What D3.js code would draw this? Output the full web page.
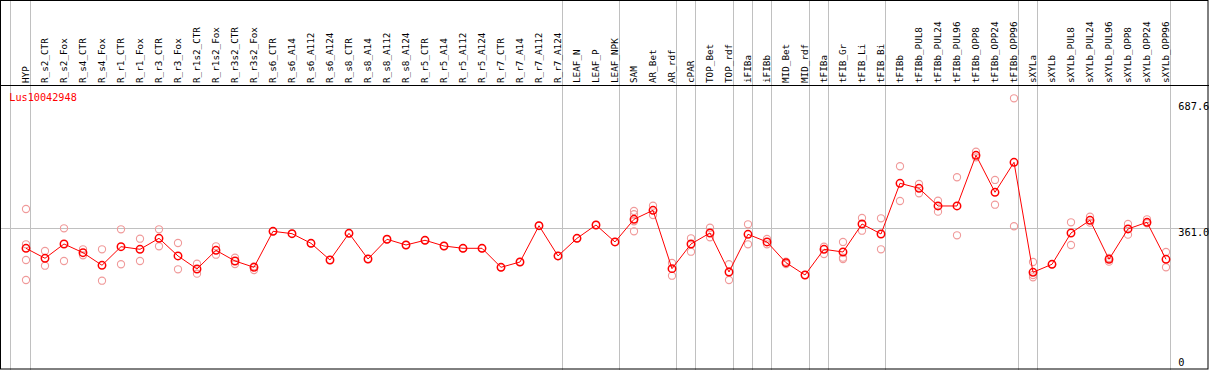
<!DOCTYPE html>
<html><head><meta charset="utf-8">
<script src="https://cdn.jsdelivr.net/npm/d3@7"></script>
<style>body{margin:0;background:#fff}svg{display:block}</style>
</head><body>
<svg id="c" width="1209" height="370"></svg>
<script>
const title = "Lus10042948";
const categories = ["HYP","R_s2_CTR","R_s2_Fox","R_s4_CTR","R_s4_Fox","R_r1_CTR","R_r1_Fox","R_r3_CTR","R_r3_Fox","R_r1s2_CTR","R_r1s2_Fox","R_r3s2_CTR","R_r3s2_Fox","R_s6_CTR","R_s6_A14","R_s6_A112","R_s6_A124","R_s8_CTR","R_s8_A14","R_s8_A112","R_s8_A124","R_r5_CTR","R_r5_A14","R_r5_A112","R_r5_A124","R_r7_CTR","R_r7_A14","R_r7_A112","R_r7_A124","LEAF_N","LEAF_P","LEAF_NPK","SAM","AR_Bet","AR_rdf","cPAR","TOP_Bet","TOP_rdf","iFIBa","iFIBb","MID_Bet","MID_rdf","tFIBa","tFIB_Gr","tFIB_Li","tFIB_Bi","tFIBb","tFIBb_PUL8","tFIBb_PUL24","tFIBb_PUL96","tFIBb_OPP8","tFIBb_OPP24","tFIBb_OPP96","sXYLa","sXYLb","sXYLb_PUL8","sXYLb_PUL24","sXYLb_PUL96","sXYLb_OPP8","sXYLb_OPP24","sXYLb_OPP96"];
const means = [309.2,283.3,320.4,297.8,265.2,313.4,306.6,335.1,289.3,255.6,304.0,276.3,260.0,353.3,347.1,322.2,278.9,348.1,281.5,332.6,317.8,330.0,315.2,309.2,309.2,260.0,273.7,367.8,289.3,335.1,369.6,325.6,384.4,407.7,256.4,320.4,348.9,247.8,345.5,325.6,271.9,240.0,306.6,299.6,372.2,346.3,477.7,464.7,418.9,418.9,550.3,454.4,532.1,247.0,267.8,348.9,381.8,280.7,359.3,376.6,280.7];
const replicates = [
 [411.1,319.6,278.9,227.1],[302.2,264.1],[361.1,276.3],[306.6,291.1],[306.6,225.2],
 [358.5,267.8],[334.1,276.3],[358.5,314.4],[323.0,254.8],[269.3,243.4],
 [314.4,292.6],[284.9,268.5],[262.6,253.0],[353.3],[347.1],
 [322.2],[278.9],[348.1],[281.5],[332.6],
 [317.8],[330.0],[315.2],[309.2],[309.2],
 [260.0],[273.7],[367.8],[289.3],[335.1],
 [369.6],[325.6],[405.9,397.4,379.2,353.3],[419.6,395.5],[271.1,238.2],
 [335.1,300.4],[362.6,337.7],[267.8,227.1],[371.4,319.6],[333.3,319.6],
 [274.5,268.5],[240.0],[313.4,294.4],[325.6,284.9,281.5],[387.8,354.8],
 [387.0,306.6],[521.8,431.8],[475.9,451.8],[432.6,404.1],[493.3,342.9],
 [559.6,545.1],[486.3,422.2],[698.0,366.3],[273.7,240.0,234.1],[267.8],
 [376.6,317.8],[391.1,375.6],[284.1,274.5],[372.2,344.5],[384.4,374.0],
 [299.6,260.0]
];
const groupEnds = ["HYP","R_r7_A124","LEAF_NPK","AR_rdf","cPAR","TOP_rdf","iFIBa","iFIBb","MID_rdf","tFIBa","tFIB_Bi","tFIBb_OPP96","sXYLa","sXYLb_OPP96"];
const yTicks = [687.6, 361.0, 0];
const yMax = 687.6;

const W = 1209, H = 370;
const svg = d3.select("#c");
const x = d3.scaleBand().domain(categories).range([11.5, 1170.5]).padding(0);
const px = c => x(c) + 14.5;
const y = d3.scaleLinear().domain([0, yMax]).range([367.6, 102.3]);
const mono = "'DejaVu Sans Mono', monospace";

// vertical group gridlines
const vx = [10.5].concat(groupEnds.map(c => Math.floor(x(c) + x.bandwidth()) + 0.5));
svg.selectAll("line.v").data(vx).join("line")
  .attr("x1", d => d).attr("x2", d => d).attr("y1", 0).attr("y2", H)
  .attr("stroke", "#c0c0c0").attr("stroke-width", 1);
// horizontal gridline at middle tick
svg.append("line").attr("x1", 0).attr("x2", W)
  .attr("y1", Math.floor(y(361.0)) + 0.5).attr("y2", Math.floor(y(361.0)) + 0.5)
  .attr("stroke", "#c0c0c0");

// frame and header line
svg.append("rect").attr("x", 0.5).attr("y", 0.5).attr("width", 1207.5).attr("height", 368.5)
  .attr("fill", "none").attr("stroke", "#000");
svg.append("line").attr("x1", 0).attr("x2", W).attr("y1", 85.5).attr("y2", 85.5).attr("stroke", "#000");

// category labels
svg.selectAll("text.cat").data(categories).join("text")
  .attr("transform", c => `translate(${px(c) + 2.6},83) rotate(-90)`)
  .attr("font-family", mono).attr("font-size", "9.3px").attr("fill", "#000")
  .text(c => c);

// y tick labels
svg.selectAll("text.yt").data(yTicks).join("text")
  .attr("x", 1178.3)
  .attr("y", d => Math.min(y(d) + 7.6, 366))
  .attr("font-family", mono).attr("font-size", "10.3px").attr("fill", "#000")
  .text(d => d.toFixed(1) === "0.0" ? "0" : d.toFixed(1));

// title
svg.append("text").attr("x", 9.3).attr("y", 100.7)
  .attr("font-family", mono).attr("font-size", "10.2px").attr("fill", "#ff0000").text(title);

// replicate points
const reps = [];
replicates.forEach((arr, i) => arr.forEach(v => reps.push({c: categories[i], v})));
svg.selectAll("circle.rep").data(reps).join("circle")
  .attr("cx", d => px(d.c)).attr("cy", d => y(d.v)).attr("r", 3.6)
  .attr("fill", "none").attr("stroke", "#f09a9a").attr("stroke-width", 1.1);

// mean line
const line = d3.line().x((d, i) => px(categories[i])).y(d => y(d));
svg.append("path").datum(means).attr("d", line)
  .attr("fill", "none").attr("stroke", "#ff0000").attr("stroke-width", 1);

// mean points
svg.selectAll("circle.m").data(means).join("circle")
  .attr("cx", (d, i) => px(categories[i])).attr("cy", d => y(d)).attr("r", 3.7)
  .attr("fill", "none").attr("stroke", "#ff0000").attr("stroke-width", 1.5);
</script>
</body></html>
